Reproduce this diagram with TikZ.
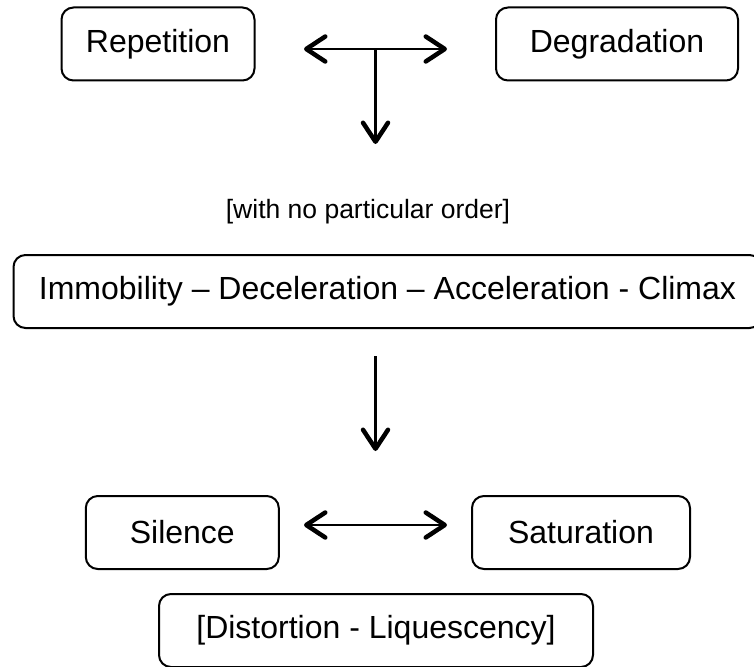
\documentclass[tikz,border=0pt]{standalone}
\usepackage{fontspec}
\setmainfont{Liberation Sans}
\usetikzlibrary{arrows.meta}
\tikzset{
	stagebox/.style={draw,line width=2pt,rounded corners=12pt,inner sep=0pt,
		minimum height=73pt,font=\fontsize{32}{38}\selectfont},
	barb/.tip={Straight Barb[length=19pt,width=25pt,line width=4.5pt,round]},
	link/.style={line width=2.6pt,arrows={-barb}},
	dlink/.style={line width=2.6pt,arrows={barb-barb}},
}
\begin{document}
\begin{tikzpicture}[x=1pt,y=-1pt]
	\useasboundingbox (0,0) rectangle (754,666);
	% upper row
	\node[stagebox,minimum width=193pt] (rep) at (158,44) {Repetition};
	\node[stagebox,minimum width=242pt] (deg) at (617,44) {Degradation};
	\coordinate (tl) at (304,49);
	\coordinate (tr) at (447,49);
	\coordinate (tm) at (375.5,49);
	\coordinate (tb) at (375.5,144);
	\draw[dlink] (tl) -- (tr);
	\draw[link] (tm) -- (tb);
	\node[font=\fontsize{26.5}{31}\selectfont] (note) at (368,212) {[with no particular order]};
	% sequence
	\node[stagebox,minimum width=748pt] (seq) at (387.5,291.5) {Immobility – Deceleration – Acceleration - Climax};
	\coordinate (ma) at (375.5,356);
	\coordinate (mb) at (375.5,451);
	\draw[link] (ma) -- (mb);
	% lower row
	\node[stagebox,minimum width=193pt] (sil) at (182.3,532.5) {Silence};
	\node[stagebox,minimum width=218pt] (sat) at (581,532.5) {Saturation};
	\coordinate (bl) at (304,525);
	\coordinate (br) at (447,525);
	\draw[dlink] (bl) -- (br);
	\node[stagebox,minimum width=434pt] (dist) at (376,630.5) {[Distortion - Liquescency]};
\end{tikzpicture}
\end{document}
